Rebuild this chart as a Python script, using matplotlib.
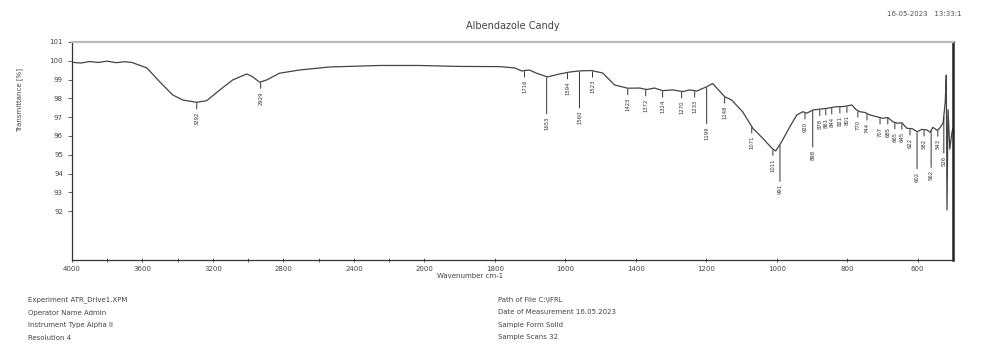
import numpy as np
import matplotlib
matplotlib.use('Agg')
import matplotlib.pyplot as plt

# spectrum (wavenumber cm-1, transmittance %)
wavenumber = [4000, 3950, 3900, 3850, 3800, 3750, 3700, 3660, 3575, 3501, 3428, 3371,
              3292, 3235, 3161, 3088, 3008, 2975, 2935, 2895, 2822, 2708, 2538, 2255,
              2028, 1901, 1787, 1744, 1724, 1702, 1682, 1651, 1616, 1588, 1560, 1526,
              1494, 1460, 1423, 1389, 1369, 1347, 1324, 1295, 1267, 1247, 1227, 1199,
              1182, 1148, 1128, 1097, 1068, 1040, 1014, 1003, 986, 963, 943, 926,
              915, 898, 858, 830, 813, 800, 787, 775, 764, 750, 736, 722, 699, 685,
              670, 659, 645, 631, 615, 602, 588, 574, 565, 557, 545, 537, 528, 522,
              519, 517, 514, 509, 503, 500]
transmittance = [99.92, 99.88, 99.96, 99.91, 99.98, 99.90, 99.95, 99.91, 99.62, 98.87, 98.18, 97.91,
                 97.79, 97.88, 98.45, 98.98, 99.30, 99.15, 98.86, 98.98, 99.34, 99.51, 99.67, 99.75,
                 99.75, 99.70, 99.69, 99.62, 99.46, 99.51, 99.34, 99.14, 99.30, 99.40, 99.46, 99.48,
                 99.35, 98.71, 98.54, 98.55, 98.47, 98.55, 98.41, 98.45, 98.36, 98.45, 98.39, 98.62,
                 98.79, 98.09, 97.91, 97.29, 96.41, 95.88, 95.35, 95.20, 95.70, 96.49, 97.12, 97.29,
                 97.21, 97.38, 97.47, 97.56, 97.56, 97.60, 97.65, 97.40, 97.29, 97.25, 97.12, 97.05, 96.94, 96.98,
                 96.75, 96.68, 96.70, 96.41, 96.38, 96.23, 96.35, 96.32, 96.20, 96.46, 96.30, 96.43, 96.69, 97.8,
                 99.24, 92.06, 97.4, 95.3, 96.2, 96.4]

# annotated band positions
peaks = [3292, 2929, 1716, 1653, 1594, 1560, 1523, 1423, 1372, 1324, 1270, 1233, 1199,
         1148, 1071, 1011, 991, 920, 898, 878, 861, 844, 821, 801, 770, 744,
         707, 685, 665, 645, 622, 602, 582, 562, 543, 526]
long_leader = [1653, 1560, 1199, 991, 898, 602, 562, 526]

xticks = [4000, 3600, 3200, 2800, 2400, 2000, 1800, 1600, 1400, 1200, 1000, 800, 600]
xminor = [3800, 3400, 3000, 2600, 2200]
yticks = [92, 93, 94, 95, 96, 97, 98, 99, 100, 101]

title = 'Albendazole Candy'
stamp = '16-05-2023   13:33:1'
info_left = ['Experiment ATR_Drive1.XPM', 'Operator Name Admin',
             'Instrument Type Alpha II', 'Resolution 4']
info_right = ['Path of File C:\\IFRL', 'Date of Measurement 16.05.2023',
              'Sample Form Solid', 'Sample Scans 32']


# wavenumber axis compressed by 2 above 2000 cm-1
def fwd(x):
    x = np.asarray(x, dtype=float)
    return np.where(x > 2000, 2000 + (x - 2000) / 2, x)


def inv(u):
    u = np.asarray(u, dtype=float)
    return np.where(u > 2000, 2000 + (u - 2000) * 2, u)


fig = plt.figure(figsize=(9.93, 3.45), dpi=100)
ax = fig.add_axes([0.0725, 0.2464, 0.8872, 0.6319])
ax.set_xscale('function', functions=(fwd, inv))

grey = '#444444'
ax.plot(wavenumber, transmittance, color=grey, lw=0.9)

wn = np.array(wavenumber)[::-1]
tr = np.array(transmittance)[::-1]
for p in peaks:
    t = np.interp(p, wn, tr)
    off = -28 if p in long_leader else -6
    ax.annotate(str(p), xy=(p, t - 0.05), xytext=(0, off), textcoords='offset points',
                rotation=90, ha='center', va='top', fontsize=3.8, color='#333333',
                arrowprops=dict(arrowstyle='-', lw=0.7, color='#333333', shrinkA=0, shrinkB=0))

ax.set_xlim(4000, 500)
ax.set_ylim(89.4, 101)
ax.set_xticks(xticks)
ax.set_xticklabels([str(v) for v in xticks])
ax.set_xticks(xminor, minor=True)
ax.set_yticks(yticks)
ax.set_yticklabels([str(v) for v in yticks])
ax.tick_params(axis='both', labelsize=5, labelcolor='#444444', color='#444444',
               length=3, width=0.6)
ax.tick_params(axis='x', direction='inout', pad=3)
ax.tick_params(axis='x', which='minor', direction='inout', length=3, width=0.6, color='#444444')

ax.spines['left'].set_color('#333333')
ax.spines['left'].set_linewidth(0.9)
ax.spines['bottom'].set_color('#333333')
ax.spines['bottom'].set_linewidth(0.9)
ax.spines['top'].set_color('#bbbbbb')
ax.spines['top'].set_linewidth(1.6)
ax.spines['right'].set_color('#222222')
ax.spines['right'].set_linewidth(1.8)

ax.set_title(title, fontsize=7, color='#444444', pad=9)
fig.text(887 / 993, 1 - 14 / 345, stamp, fontsize=5, color='#555555', va='center')
fig.text(20 / 993, 1 - 100 / 345, 'Transmittance [%]', rotation=90, fontsize=5,
         color='#444444', ha='center', va='center')
fig.text(470 / 993, 1 - 276 / 345, 'Wavenumber cm-1', fontsize=5, color='#444444',
         ha='center', va='center')

for i, s in enumerate(info_left):
    fig.text(28 / 993, 1 - (300 + 12.5 * i) / 345, s, fontsize=5, color='#444444', va='center')
for i, s in enumerate(info_right):
    fig.text(498 / 993, 1 - (300 + 12.5 * i) / 345, s, fontsize=5, color='#444444', va='center')

fig.savefig('out.png', dpi=100)
